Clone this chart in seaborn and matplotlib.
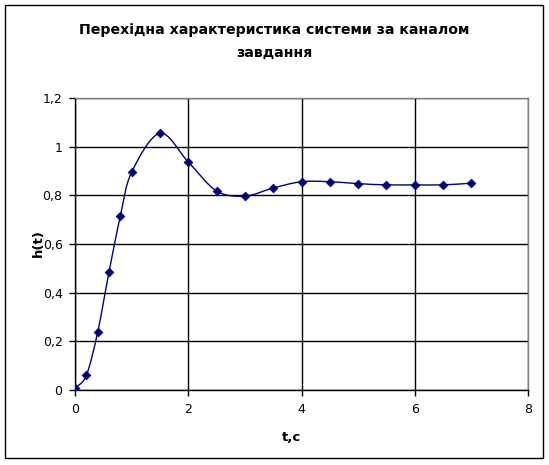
import numpy as np
import matplotlib.pyplot as plt
import seaborn as sns
from matplotlib.path import Path
from matplotlib.patches import PathPatch, Rectangle
from matplotlib.ticker import FuncFormatter

# data
t = [0, 0.2, 0.4, 0.6, 0.8, 1.0, 1.5, 2.0, 2.5, 3.0, 3.5, 4.0, 4.5, 5.0, 5.5, 6.0, 6.5, 7.0]
h = [0.008, 0.06, 0.237, 0.484, 0.714, 0.895, 1.055, 0.937, 0.818, 0.797,
     0.830, 0.856, 0.856, 0.848, 0.843, 0.843, 0.843, 0.850]
x_ticks = [0, 2, 4, 6, 8]
y_ticks = [0, 0.2, 0.4, 0.6, 0.8, 1.0, 1.2]

title = "Перехідна характеристика системи за каналом\nзавдання"
x_label = "t,c"
y_label = "h(t)"

sns.set_style("white")
plt.rcParams["font.family"] = ["DejaVu Sans"]
plt.rcParams["text.color"] = "black"
plt.rcParams["xtick.labelcolor"] = "black"
plt.rcParams["ytick.labelcolor"] = "black"

navy = "#000080"

fig = plt.figure(figsize=(5.49, 4.65), dpi=100)
ax = fig.add_axes([75 / 549, 1 - 390 / 465, 453 / 549, 292 / 465])

# smoothed line (Excel-style bezier through the points)
px, py = np.array(t, float), np.array(h, float)
verts = [(px[0], py[0])]
codes = [Path.MOVETO]
n = len(px)
for i in range(n - 1):
    p0 = max(i - 1, 0)
    p3 = min(i + 2, n - 1)
    c1 = (px[i] + (px[i + 1] - px[p0]) / 6, py[i] + (py[i + 1] - py[p0]) / 6)
    c2 = (px[i + 1] - (px[p3] - px[i]) / 6, py[i + 1] - (py[p3] - py[i]) / 6)
    verts += [c1, c2, (px[i + 1], py[i + 1])]
    codes += [Path.CURVE4] * 3
ax.add_patch(PathPatch(Path(verts, codes), facecolor="none", edgecolor=navy,
                       lw=1.0, zorder=3))

sns.scatterplot(x=t, y=h, marker="D", s=20, color=navy, edgecolor=navy,
                linewidth=0.5, zorder=4, ax=ax)

ax.set_xlim(0, 8)
ax.set_ylim(0, 1.2)
ax.set_xticks(x_ticks)
ax.set_yticks(y_ticks)
ax.yaxis.set_major_formatter(FuncFormatter(
    lambda v, p: "0" if v == 0 else ("1" if abs(v - 1) < 1e-9 else f"{v:.1f}".replace(".", ","))))
ax.tick_params(direction="out", length=4, width=1, color="black",
               labelsize=9, pad=5, bottom=True, left=True)

ax.grid(True, color="black", lw=1)
ax.set_axisbelow(True)
for s in ["left", "bottom"]:
    ax.spines[s].set_color("black")
    ax.spines[s].set_linewidth(1)
for s in ["top", "right"]:
    ax.spines[s].set_color("#808080")
    ax.spines[s].set_linewidth(1)

fig.text(0.5, 1 - 41 / 465, title, ha="center", va="center", color="black",
         fontsize=10.2, fontweight="bold", linespacing=1.8)
fig.text(292 / 549, 1 - 437 / 465, x_label, ha="center", va="center",
         fontsize=9.5, fontweight="bold", color="black")
fig.text(38 / 549, 1 - 243 / 465, y_label, ha="center", va="center",
         fontsize=9.5, fontweight="bold", rotation=90, color="black")

fig.patches.append(Rectangle((5 / 549, 1 - 458 / 465), 538 / 549, 453 / 465,
                             transform=fig.transFigure, fill=False,
                             edgecolor="black", lw=1))

fig.savefig("out.png", dpi=100)
